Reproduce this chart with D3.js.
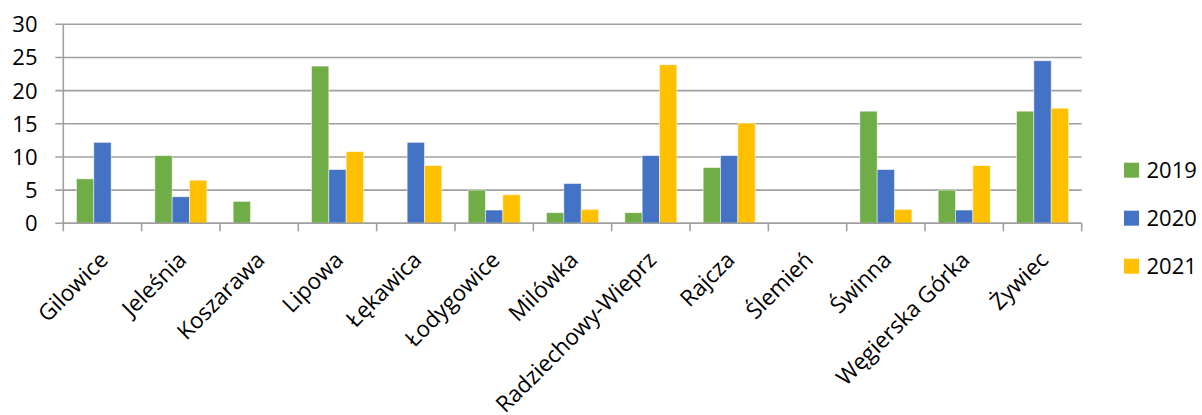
<!DOCTYPE html>
<html>
<head>
<meta charset="utf-8">
<script src="https://cdn.jsdelivr.net/npm/d3@7"></script>
<style>
  html, body { margin:0; padding:0; background:#fff; }
  svg { display:block; font-family:"Open Sans", "Noto Sans", sans-serif; }
</style>
</head>
<body>
<svg id="chart" width="1202" height="415"></svg>
<script>
/* ---------- data ---------------------------------------- */
const gminy = ['Gilowice','Jeleśnia','Koszarawa','Lipowa','Łękawica','Łodygowice','Milówka',
               'Radziechowy-Wieprz','Rajcza','Ślemień','Świnna','Węgierska Górka','Żywiec'];
const years = ['2019','2020','2021'];
const v2019 = [6.7, 10.2, 3.3, 23.7, 0,    5.0, 1.6, 1.6,  8.4,  0, 16.9, 5.0, 16.9];
const v2020 = [12.2, 4.0, 0,    8.1, 12.2, 2.0, 6.0, 10.2, 10.2, 0, 8.1,  2.0, 24.5];
const v2021 = [0,    6.5, 0,   10.8, 8.7,  4.3, 2.1, 23.9, 15.1, 0, 2.1,  8.7, 17.35];
const yTicks = [0,5,10,15,20,25,30];
const colours = ['#70ad47','#4472c4','#ffc000'];

const series = [v2019, v2020, v2021];

/* ---------- layout -------------------------------------- */
const svg = d3.select('#chart');
const L = 63.3, R = 1081.7, T = 24.3, B = 223.3;
const GW = 52;                                   // width of a bar group

const x  = d3.scaleBand().domain(gminy).range([L,R]);
const y  = d3.scaleLinear().domain([0,30]).range([B,T]);
const xs = d3.scaleBand().domain(years).range([0,GW]);
const AX = '#a0a0a0';

/* gridlines */
svg.append('g').selectAll('line')
  .data(yTicks)
  .enter().append('line')
    .attr('x1',L-8).attr('x2',R)
    .attr('y1',d=>y(d)).attr('y2',d=>y(d))
    .attr('stroke',AX).attr('stroke-width',1.6);

/* y labels */
svg.append('g').selectAll('text')
  .data(yTicks)
  .enter().append('text')
    .attr('x',37.5).attr('y',d=>y(d))
    .attr('dy','.36em')
    .attr('text-anchor','end')
    .style('font-size','22px').style('fill','#000')
    .text(d=>d);

/* bars */
const grp = svg.append('g').selectAll('g')
  .data(gminy)
  .enter().append('g')
    .attr('transform',d=>`translate(${x(d)+x.bandwidth()/2-GW/2},0)`);

grp.selectAll('rect')
  .data((d,i)=>years.map((yr,k)=>({yr,v:series[k][i],k})))
  .enter().append('rect')
    .attr('x',d=>xs(d.yr))
    .attr('width',xs.bandwidth())
    .attr('y',d=>y(d.v))
    .attr('height',d=>B-y(d.v))
    .attr('fill',d=>colours[d.k])
    .attr('stroke','#fff').attr('stroke-opacity',0.6).attr('stroke-width',0.8)
    .style('display',d=>d.v>0?null:'none');

/* axes lines + ticks */
svg.append('line')
  .attr('x1',L).attr('x2',L).attr('y1',T).attr('y2',B+8)
  .attr('stroke',AX).attr('stroke-width',1.6);
svg.append('line')
  .attr('x1',L).attr('x2',R).attr('y1',B).attr('y2',B)
  .attr('stroke',AX).attr('stroke-width',1.6);
svg.append('g').selectAll('line')
  .data(gminy)
  .enter().append('line')
    .attr('x1',d=>x(d)+x.bandwidth()).attr('x2',d=>x(d)+x.bandwidth())
    .attr('y1',B).attr('y2',B+8)
    .attr('stroke',AX).attr('stroke-width',1.6);

/* category labels, rotated */
svg.append('g').selectAll('text')
  .data(gminy)
  .enter().append('text')
    .attr('transform',d=>`translate(${x(d)+x.bandwidth()/2+7},${B+38}) rotate(-45)`)
    .attr('text-anchor','end')
    .style('font-size','22.5px').style('fill','#000')
    .text(d=>d);

/* legend */
const lg = svg.append('g').selectAll('g')
  .data(years)
  .enter().append('g')
    .attr('transform',(d,i)=>`translate(1124,${162.7+i*48})`);
lg.append('rect')
  .attr('width',15).attr('height',15)
  .attr('fill',(d,i)=>colours[i]);
lg.append('text')
  .attr('x',22.5).attr('y',7.5).attr('dy','.36em')
  .style('font-size','22px').style('fill','#000')
  .text(d=>d);
</script>
</body>
</html>
